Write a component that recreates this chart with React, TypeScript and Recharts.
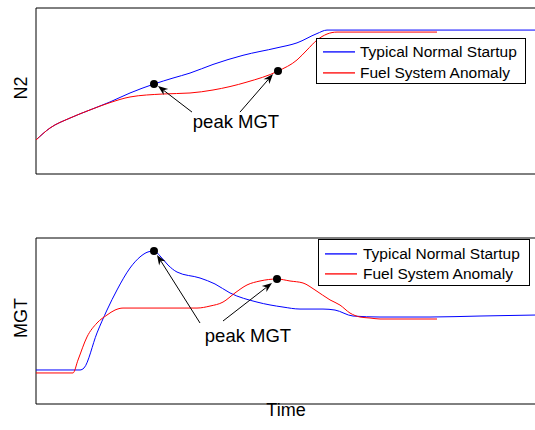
import React from 'react';
import { LineChart, Line, XAxis, YAxis, ReferenceArea, ReferenceDot, ReferenceLine, Legend } from 'recharts';

const FONT = '"Liberation Sans", Arial, Helvetica, sans-serif';
const BLUE = '#0000ff';
const RED = '#ff0000';

// Top panel: N2 vs time
const n2Normal = [
  { t: 0, v: 20.5 }, { t: 2.8, v: 27.7 }, { t: 6.8, v: 33.7 }, { t: 10.8, v: 38.6 },
  { t: 14.8, v: 43.4 }, { t: 18.8, v: 48.8 }, { t: 23.6, v: 54.2 }, { t: 27.4, v: 57.8 },
  { t: 30.8, v: 60.8 }, { t: 35.4, v: 66.0 }, { t: 41.4, v: 71.5 }, { t: 48.2, v: 76.0 },
  { t: 52.2, v: 79.0 }, { t: 56.2, v: 84.6 }, { t: 58.2, v: 86.7 }, { t: 70, v: 86.7 },
  { t: 85, v: 86.7 }, { t: 100, v: 86.7 },
];
const n2Anomaly = [
  { t: 0, v: 20.5 }, { t: 2.8, v: 27.7 }, { t: 6.8, v: 33.7 }, { t: 10.8, v: 38.6 },
  { t: 14.8, v: 43.0 }, { t: 18.8, v: 46.4 }, { t: 25.4, v: 48.2 }, { t: 30.8, v: 48.8 },
  { t: 35.4, v: 50.6 }, { t: 42.2, v: 55.4 }, { t: 48.4, v: 62.0 }, { t: 52.2, v: 68.7 },
  { t: 54.2, v: 74.7 }, { t: 56.2, v: 80.7 }, { t: 58.2, v: 84.3 }, { t: 60.2, v: 85.5 },
  { t: 70, v: 85.5 }, { t: 80.2, v: 85.5 },
];

// Bottom panel: MGT vs time
const mgtNormal = [
  { t: 0, v: 20.5 }, { t: 8.8, v: 20.5 }, { t: 9.6, v: 21.7 }, { t: 12.2, v: 42.8 },
  { t: 14.2, v: 56.6 }, { t: 16.2, v: 68.7 }, { t: 18.8, v: 81.9 }, { t: 20.8, v: 88.6 },
  { t: 22.4, v: 91.6 }, { t: 23.6, v: 92.2 }, { t: 24.8, v: 89.2 }, { t: 26.4, v: 83.7 },
  { t: 28.2, v: 79.5 }, { t: 32.8, v: 75.9 }, { t: 35.8, v: 72.3 }, { t: 38.8, v: 66.9 },
  { t: 44.2, v: 61.4 }, { t: 49.4, v: 58.4 }, { t: 52.8, v: 57.2 }, { t: 57.4, v: 57.2 },
  { t: 59.8, v: 56.6 }, { t: 63.4, v: 53.0 }, { t: 68.8, v: 52.4 }, { t: 78.8, v: 52.4 },
  { t: 88.8, v: 53.0 }, { t: 100, v: 53.6 },
];
const mgtAnomaly = [
  { t: 0, v: 18.7 }, { t: 7.4, v: 18.7 }, { t: 8.4, v: 26.5 }, { t: 10.2, v: 40.4 },
  { t: 12.2, v: 48.8 }, { t: 14.2, v: 53.6 }, { t: 15.8, v: 56.6 }, { t: 17.4, v: 57.8 },
  { t: 24.8, v: 57.8 }, { t: 32.2, v: 57.8 }, { t: 34.8, v: 59.0 }, { t: 37.4, v: 61.4 },
  { t: 39.8, v: 66.9 }, { t: 42.2, v: 71.7 }, { t: 44.8, v: 74.1 }, { t: 48.2, v: 75.3 },
  { t: 50.8, v: 74.1 }, { t: 53.4, v: 72.9 }, { t: 55.8, v: 68.7 }, { t: 58.8, v: 62.7 },
  { t: 60.8, v: 59.6 }, { t: 62.8, v: 54.8 }, { t: 64.8, v: 52.4 }, { t: 66.8, v: 51.8 },
  { t: 68.8, v: 51.2 }, { t: 80.2, v: 51.2 },
];

// Annotations (data coordinates)
const n2Peaks = [{ t: 23.6, v: 54.2 }, { t: 48.4, v: 62.0 }];
const n2Arrows = [
  { from: { t: 31.2, v: 37.3 }, to: { t: 24.4, v: 53.0 } },
  { from: { t: 40.8, v: 37.3 }, to: { t: 47.4, v: 60.2 } },
];
const n2Text = { t: 40, v: 27.7 };

const mgtPeaks = [{ t: 23.6, v: 92.2 }, { t: 48.2, v: 75.3 }];
const mgtArrows = [
  { from: { t: 32.8, v: 48.8 }, to: { t: 24.2, v: 89.8 } },
  { from: { t: 37.4, v: 50.0 }, to: { t: 47.2, v: 72.9 } },
];
const mgtText = { t: 42.4, v: 37.3 };

const seriesNames = ['Typical Normal Startup', 'Fuel System Anomaly'];
const seriesColors = [BLUE, RED];
const annotationText = 'peak MGT';

const arrowShape = (p: any) => {
  const x1 = Number(p.x1), y1 = Number(p.y1), x2 = Number(p.x2), y2 = Number(p.y2);
  const dx = x2 - x1, dy = y2 - y1;
  const len = Math.hypot(dx, dy) || 1;
  const ux = dx / len, uy = dy / len;
  const px = -uy, py = ux;
  const L = 10, W = 3.8, N = 7;
  const bx = x2 - ux * L, by = y2 - uy * L;
  const nx = x2 - ux * N, ny = y2 - uy * N;
  const pts = `${x2},${y2} ${bx + px * W},${by + py * W} ${nx},${ny} ${bx - px * W},${by - py * W}`;
  return (
    <g>
      <line x1={x1} y1={y1} x2={nx} y2={ny} stroke="#000" strokeWidth={1} />
      <polygon points={pts} fill="#000" stroke="none" />
    </g>
  );
};

const textShape = (p: any) => (
  <text x={p.cx} y={p.cy} textAnchor="middle" fontFamily={FONT} fontSize={18.5} fill="#000">
    {annotationText}
  </text>
);

const LegendBox = ({ width, height, rowTop, rowGap, lineLeft, lineWidth, textGap }: any) => (
  <div
    style={{
      position: 'relative', width, height, boxSizing: 'border-box', border: '1px solid #000',
      background: '#fff', fontFamily: FONT, fontSize: 15.5, color: '#000',
    }}
  >
    <svg width={lineLeft + lineWidth + 2} height={height - 2} style={{ position: 'absolute', left: 0, top: 0 }}>
      {seriesNames.map((name, i) => (
        <line key={name} x1={lineLeft} x2={lineLeft + lineWidth} y1={rowTop + i * rowGap + 0.9} y2={rowTop + i * rowGap + 0.9} stroke={seriesColors[i]} strokeWidth={1.3} />
      ))}
    </svg>
    {seriesNames.map((name, i) => (
      <span key={name} style={{ position: 'absolute', left: lineLeft + lineWidth + textGap, top: rowTop + i * rowGap - 10, lineHeight: '21px', whiteSpace: 'nowrap' }}>{name}</span>
    ))}
  </div>
);

const yLabel = (text: string) => (props: any) => {
  const vb = props.viewBox || {};
  const cy = vb.y + vb.height / 2 - 3;
  const x = 27;
  return (
    <text x={x} y={cy} transform={`rotate(-90, ${x}, ${cy})`} textAnchor="middle" fontFamily={FONT} fontSize={18} fill="#000">
      {text}
    </text>
  );
};

const xLabel = (props: any) => {
  const vb = props.viewBox || {};
  return (
    <text x={vb.x + vb.width / 2} y={vb.y + 12} textAnchor="middle" fontFamily={FONT} fontSize={18} fill="#000">
      Time
    </text>
  );
};

const Panel = ({ normal, anomaly, peaks, arrows, txt, label, showTime, legend }: any) => (
  <LineChart width={540} height={200} margin={{ top: 8, right: 4, left: 0, bottom: showTime ? 0 : 26 }}>
    <XAxis
      type="number" dataKey="t" domain={[0, 100]} allowDataOverflow
      hide={!showTime} tick={false} axisLine={false} tickLine={false} height={26}
      label={showTime ? { content: xLabel } : undefined}
    />
    <YAxis
      type="number" dataKey="v" domain={[0, 100]} allowDataOverflow width={36}
      tick={false} axisLine={false} tickLine={false}
      label={{ content: yLabel(label) }}
    />
    <ReferenceArea x1={0} x2={100} y1={0} y2={100} fill="none" fillOpacity={0} stroke="#000" strokeWidth={1} ifOverflow="visible" />
    <Line data={normal} dataKey="v" name={seriesNames[0]} type="monotone" stroke={BLUE} strokeWidth={1} dot={false} isAnimationActive={false} />
    <Line data={anomaly} dataKey="v" name={seriesNames[1]} type="monotone" stroke={RED} strokeWidth={1} dot={false} isAnimationActive={false} />
    {arrows.map((a: any, i: number) => (
      <ReferenceLine key={'a' + i} segment={[{ x: a.from.t, y: a.from.v }, { x: a.to.t, y: a.to.v }]} shape={arrowShape} ifOverflow="visible" />
    ))}
    {peaks.map((p: any, i: number) => (
      <ReferenceDot key={'p' + i} x={p.t} y={p.v} r={4} fill="#000" stroke="none" ifOverflow="visible" />
    ))}
    <ReferenceDot x={txt.t} y={txt.v} r={1} shape={textShape} ifOverflow="visible" />
    <Legend
      layout="vertical" align="center" verticalAlign="middle"
      wrapperStyle={{ left: legend.left, top: legend.top, width: legend.width, height: legend.height }}
      content={() => <LegendBox {...legend} />}
    />
  </LineChart>
);

export default function App() {
  return (
    <div style={{ position: 'absolute', left: 0, top: 0, width: 535, height: 430, overflow: 'hidden', background: '#fff' }}>
      <div style={{ position: 'absolute', left: 0, top: 0 }}>
        <Panel
          normal={n2Normal} anomaly={n2Anomaly} peaks={n2Peaks} arrows={n2Arrows} txt={n2Text}
          label="N2" showTime={false}
          legend={{ left: 316, top: 38, width: 210, height: 46, rowTop: 12, rowGap: 21, lineLeft: 6, lineWidth: 32, textGap: 5 }}
        />
      </div>
      <div style={{ position: 'absolute', left: 0, top: 230 }}>
        <Panel
          normal={mgtNormal} anomaly={mgtAnomaly} peaks={mgtPeaks} arrows={mgtArrows} txt={mgtText}
          label="MGT" showTime={true}
          legend={{ left: 318, top: 9, width: 212, height: 47, rowTop: 13, rowGap: 20, lineLeft: 6, lineWidth: 32, textGap: 6 }}
        />
      </div>
    </div>
  );
}
